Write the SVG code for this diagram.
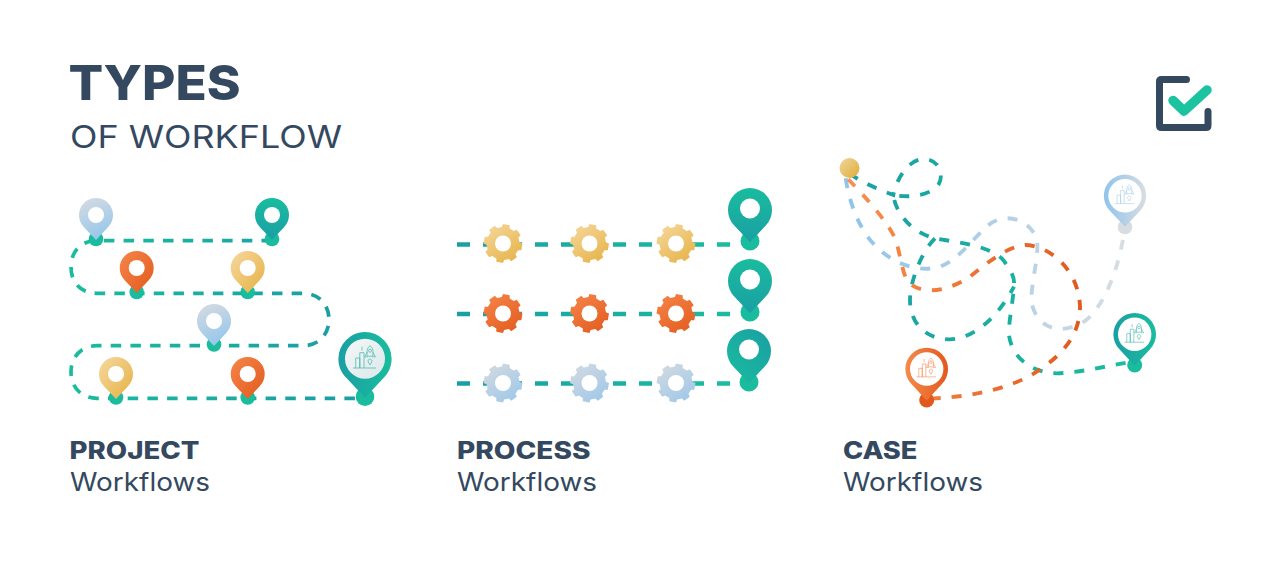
<svg xmlns="http://www.w3.org/2000/svg" xmlns:xlink="http://www.w3.org/1999/xlink" width="1280" height="572" viewBox="0 0 1280 572">
<style>
text{font-family:Inter,"Liberation Sans",sans-serif;fill:#34495f}
.b{font-weight:800;font-size:24px}
.r{font-weight:400;font-size:25px}
.hole{fill:#fff}
.pd{fill:#1abc9e}
.ic{fill:none;stroke-width:.7}
.dash{fill:none;stroke-width:3.7;stroke-dasharray:10.500 9.200}
.pr{fill:none;stroke-width:4.400;stroke-dasharray:13 13;stroke:url(#lineP)}
.cs{fill:none;stroke-width:11.500;stroke-dasharray:30 33}
</style>
<defs>
<linearGradient id="gBlue" x1=".25" y1="0" x2=".6" y2="1"><stop offset="0" stop-color="#d3dae1"/><stop offset="1" stop-color="#94c6ec"/></linearGradient>
<linearGradient id="gTeal" x1="0" y1="0" x2="0" y2="1"><stop offset="0" stop-color="#1abc9e"/><stop offset="1" stop-color="#1a9fa4"/></linearGradient>
<linearGradient id="gOrange" x1="0" y1="0" x2="1" y2="1"><stop offset="0" stop-color="#f6864a"/><stop offset="1" stop-color="#e2591d"/></linearGradient>
<linearGradient id="gGold" x1="0" y1="0" x2="1" y2="1"><stop offset="0" stop-color="#f6d9a0"/><stop offset="1" stop-color="#e5b042"/></linearGradient>
<linearGradient id="gGear3" x1="0" y1="0" x2="1" y2="1"><stop offset="0" stop-color="#d6dbe0"/><stop offset="1" stop-color="#9ac6ea"/></linearGradient>
<linearGradient id="gTealH" x1="0" y1="0" x2="1" y2="0"><stop offset="0" stop-color="#1a9fa4"/><stop offset="1" stop-color="#1abc9e"/></linearGradient>
<linearGradient id="gTealD" x1="1" y1="0" x2="0" y2="1"><stop offset="0" stop-color="#1a9fa4"/><stop offset="1" stop-color="#1abc9e"/></linearGradient>
<linearGradient id="gOrangeH" x1="0" y1="0" x2="1" y2="0"><stop offset="0" stop-color="#f58a4b"/><stop offset="1" stop-color="#e2591d"/></linearGradient>
<linearGradient id="gBlueH" x1="0" y1="0" x2="1" y2="0"><stop offset="0" stop-color="#8fc4ec"/><stop offset="1" stop-color="#d8dde2"/></linearGradient>
<linearGradient id="gInner" x1="0" y1="0" x2="1" y2="1"><stop offset="0" stop-color="#f5f8f8"/><stop offset="1" stop-color="#dbe8ea"/></linearGradient>
<linearGradient id="gBall" x1="0" y1="0" x2="1" y2="1"><stop offset="0" stop-color="#efd79c"/><stop offset="1" stop-color="#e2ab38"/></linearGradient>
<linearGradient id="lineJ" gradientUnits="userSpaceOnUse" x1="71" y1="0" x2="329" y2="0"><stop offset="0" stop-color="#1abc9e"/><stop offset="1" stop-color="#1a9fa4"/></linearGradient>
<linearGradient id="lineP" gradientUnits="userSpaceOnUse" x1="457" y1="0" x2="730" y2="0"><stop offset="0" stop-color="#1a9fa4"/><stop offset="1" stop-color="#1abc9e"/></linearGradient>
<linearGradient id="lineT" gradientUnits="userSpaceOnUse" x1="50" y1="0" x2="890" y2="0"><stop offset="0" stop-color="#1a9fa4"/><stop offset="1" stop-color="#1abc9e"/></linearGradient>
<linearGradient id="lineO" gradientUnits="userSpaceOnUse" x1="50" y1="0" x2="750" y2="0"><stop offset="0" stop-color="#f9904f"/><stop offset="1" stop-color="#e2591d"/></linearGradient>
<linearGradient id="lineB" gradientUnits="userSpaceOnUse" x1="50" y1="0" x2="880" y2="0"><stop offset="0" stop-color="#8fc4ec"/><stop offset=".7" stop-color="#bcd3e4"/><stop offset="1" stop-color="#d8dde2"/></linearGradient>
<path id="pin" d="M0 25L-12 12.200C-15.200 8.900-17 4.800-17 0A17 17 0 0 1 17 0C17 4.800 15.200 8.900 12 12.200Z"/>
<path id="gear" d="M16.010-3.990L19.200-3.390 19.200 3.390 16.010 3.990 14.140 8.500 15.970 11.180 11.180 15.970 8.500 14.140 3.990 16.010 3.390 19.200-3.390 19.200-3.990 16.010-8.500 14.140-11.180 15.970-15.970 11.180-14.140 8.500-16.010 3.990-19.200 3.390-19.200-3.390-16.010-3.990-14.140-8.500-15.970-11.180-11.180-15.970-8.500-14.140-3.990-16.010-3.390-19.200 3.390-19.200 3.990-16.010 8.500-14.140 11.180-15.970 15.970-11.180 14.140-8.500Z"/>
<g id="icon"><path d="M-12 9.300H11M-9.300 9.300V-.7H-5.200V9.300M-5.200 9.300V-6H-1V9.300M-3 -12V-8.200"/><path d="M5-13C2-11 1.600-7 2.200-2.500H7.800C8.400-7 8-11 5-13ZM2.200-6.500L-.4-1.800H2.500M7.800-6.500L10.400-1.800H7.500"/><circle cx="5" cy="-8" r="1.500"/><path d="M5 6.300L3.200 3.200A2 2 0 1 1 6.800 3.200Z"/></g>
</defs>
<rect width="1280" height="572" fill="#fff"/>

<g id="title">
<text x="68.500" y="99.500" font-size="48" font-weight="800" textLength="172" lengthAdjust="spacingAndGlyphs">TYPES</text>
<text x="70" y="148" font-size="31" font-weight="400" textLength="272" lengthAdjust="spacingAndGlyphs">OF WORKFLOW</text>
</g>
<g id="logo" fill="none" stroke-linejoin="round" stroke-linecap="round">
<path d="M1186.500 79.500H1161.500Q1159.500 79.500 1159.500 81.500V125.500Q1159.500 127.500 1161.500 127.500H1206Q1208 127.500 1208 125.500V111.500" stroke="#34495f" stroke-width="7"/>
<path d="M1173 100.500L1184 111L1207 90" stroke="#1cc3a0" stroke-width="9.500"/>
</g>

<g id="connectors">
<path id="project-line" class="dash" stroke="url(#lineJ)" d="M272 240.700H97C80 240.700 71 252 71 267C71 282 80 293.300 97 293.300H303C320 293.300 329 306 329 319.500C329 333 320 345.700 303 345.700H97C80 345.700 71 358 71 372C71 386 80 398.300 97 398.300H365"/>
<g id="process-lines">
<path class="pr" d="M457 244.500H730"/>
<path class="pr" d="M457 314H730"/>
<path class="pr" d="M457 383.500H730"/>
</g>
<g id="case-lines" transform="translate(830 150) scale(.33333)">
<path class="cs" stroke="url(#lineB)" d="M47 85C60 170 95 255 150 300C200 345 270 368 330 350C385 330 430 265 470 230C510 190 590 195 620 265C630 320 600 400 605 460C620 525 670 550 730 530C800 515 860 390 882 250"/>
<path class="cs" stroke="url(#lineT)" d="M58 70C100 100 150 120 190 135C198 90 235 25 285 27C325 30 345 70 325 105C300 135 245 145 190 135C195 180 235 245 315 265C385 278 470 285 515 325C545 360 555 385 552 410C548 460 535 520 537 555C545 620 600 668 680 670C750 668 820 650 890 638"/>
<path class="cs" stroke="url(#lineT)" d="M315 265C270 310 240 400 240 450C240 530 300 570 360 568C440 565 510 490 552 410"/>
<path class="cs" stroke="url(#lineO)" d="M55 88C100 135 170 210 195 265C215 320 215 385 245 405C290 435 360 420 420 380C470 340 530 290 585 285C650 285 745 350 750 470C750 560 690 620 620 665C560 705 450 740 310 745"/>
</g>
</g>

<g id="project-pin-1"><circle class="pd" cx="96" cy="239" r="7.300"/><use href="#pin" transform="translate(96 215)" fill="url(#gBlue)"/><circle class="hole" cx="96" cy="215" r="8"/></g>
<g id="project-pin-2"><circle class="pd" cx="272" cy="239" r="7.300"/><use href="#pin" transform="translate(272 215)" fill="url(#gTeal)"/><circle class="hole" cx="272" cy="215" r="8"/></g>
<g id="project-pin-3"><circle class="pd" cx="136.700" cy="292" r="7.300"/><use href="#pin" transform="translate(136.700 268)" fill="url(#gOrange)"/><circle class="hole" cx="136.700" cy="268" r="8"/></g>
<g id="project-pin-4"><circle class="pd" cx="247.700" cy="292" r="7.300"/><use href="#pin" transform="translate(247.700 268)" fill="url(#gGold)"/><circle class="hole" cx="247.700" cy="268" r="8"/></g>
<g id="project-pin-5"><circle class="pd" cx="214" cy="344.500" r="7.300"/><use href="#pin" transform="translate(214 321)" fill="url(#gBlue)"/><circle class="hole" cx="214" cy="321" r="8"/></g>
<g id="project-pin-6"><circle class="pd" cx="116" cy="397.500" r="7.300"/><use href="#pin" transform="translate(116 374)" fill="url(#gGold)"/><circle class="hole" cx="116" cy="374" r="8"/></g>
<g id="project-pin-7"><circle class="pd" cx="247.700" cy="397.500" r="7.300"/><use href="#pin" transform="translate(247.700 374)" fill="url(#gOrange)"/><circle class="hole" cx="247.700" cy="374" r="8"/></g>
<g id="project-pin-end"><circle class="pd" cx="365" cy="396.700" r="9.300"/><use href="#pin" transform="translate(365 358.700) scale(1.565)" fill="url(#gTealH)"/><circle cx="365" cy="358.700" r="20" fill="url(#gInner)"/><use href="#icon" class="ic" stroke="#3fb5a8" transform="translate(365 358.700)"/></g>

<g id="gear-1-1"><use href="#gear" transform="translate(503 243.500) rotate(10)" fill="url(#gGold)"/><circle class="hole" cx="503" cy="243.500" r="8"/></g>
<g id="gear-1-2"><use href="#gear" transform="translate(589.500 243.500) rotate(10)" fill="url(#gGold)"/><circle class="hole" cx="589.500" cy="243.500" r="8"/></g>
<g id="gear-1-3"><use href="#gear" transform="translate(676 243.500) rotate(10)" fill="url(#gGold)"/><circle class="hole" cx="676" cy="243.500" r="8"/></g>
<g id="gear-2-1"><use href="#gear" transform="translate(503 313.500) rotate(10)" fill="url(#gOrange)"/><circle class="hole" cx="503" cy="313.500" r="8"/></g>
<g id="gear-2-2"><use href="#gear" transform="translate(589.500 313.500) rotate(10)" fill="url(#gOrange)"/><circle class="hole" cx="589.500" cy="313.500" r="8"/></g>
<g id="gear-2-3"><use href="#gear" transform="translate(676 313.500) rotate(10)" fill="url(#gOrange)"/><circle class="hole" cx="676" cy="313.500" r="8"/></g>
<g id="gear-3-1"><use href="#gear" transform="translate(503 383) rotate(10)" fill="url(#gGear3)"/><circle class="hole" cx="503" cy="383" r="8"/></g>
<g id="gear-3-2"><use href="#gear" transform="translate(589.500 383) rotate(10)" fill="url(#gGear3)"/><circle class="hole" cx="589.500" cy="383" r="8"/></g>
<g id="gear-3-3"><use href="#gear" transform="translate(676 383) rotate(10)" fill="url(#gGear3)"/><circle class="hole" cx="676" cy="383" r="8"/></g>

<g id="process-pin-1"><circle class="pd" cx="750" cy="241" r="9.500"/><use href="#pin" transform="translate(750 210) scale(1.294)" fill="url(#gTeal)"/><circle class="hole" cx="750" cy="208.500" r="10"/></g>
<g id="process-pin-2"><circle class="pd" cx="750" cy="312" r="9.500"/><use href="#pin" transform="translate(750 281) scale(1.294)" fill="url(#gTeal)"/><circle class="hole" cx="750" cy="279.500" r="10"/></g>
<g id="process-pin-3"><circle class="pd" cx="749" cy="382" r="9.500"/><use href="#pin" transform="translate(749 351) scale(1.294)" fill="url(#gTealD)"/><circle class="hole" cx="749" cy="349.500" r="10"/></g>

<g id="case-start"><circle cx="849.500" cy="168" r="10" fill="url(#gBall)"/></g>
<g id="case-pin-orange"><circle cx="926.700" cy="400" r="7.500" fill="#e2591d"/><use href="#pin" transform="translate(926.700 369) scale(1.255)" fill="url(#gOrangeH)"/><circle class="hole" cx="926.700" cy="369" r="16.700"/><use href="#icon" class="ic" stroke="#f28a52" transform="translate(926.700 369) scale(.85)"/></g>
<g id="case-pin-blue"><circle cx="1125" cy="227" r="7.300" fill="#d8dde2"/><use href="#pin" transform="translate(1125 195.700) scale(1.245)" fill="url(#gBlueH)"/><circle class="hole" cx="1125" cy="195.700" r="16.700"/><use href="#icon" class="ic" stroke="#a6cde9" transform="translate(1125 195.700) scale(.85)"/></g>
<g id="case-pin-teal"><circle class="pd" cx="1134.700" cy="365" r="7.500"/><use href="#pin" transform="translate(1134.700 334.300) scale(1.255)" fill="url(#gTealH)"/><circle class="hole" cx="1134.700" cy="334.300" r="16.700"/><use href="#icon" class="ic" stroke="#3fb5a8" transform="translate(1134.700 334.300) scale(.85)"/></g>

<g id="label-project"><text class="b" x="69.500" y="459" textLength="130" lengthAdjust="spacingAndGlyphs">PROJECT</text><text class="r" x="70" y="491" textLength="140" lengthAdjust="spacingAndGlyphs">Workflows</text></g>
<g id="label-process"><text class="b" x="457" y="459" textLength="133.500" lengthAdjust="spacingAndGlyphs">PROCESS</text><text class="r" x="457" y="491" textLength="140" lengthAdjust="spacingAndGlyphs">Workflows</text></g>
<g id="label-case"><text class="b" x="843" y="459" textLength="74.500" lengthAdjust="spacingAndGlyphs">CASE</text><text class="r" x="843" y="491" textLength="140" lengthAdjust="spacingAndGlyphs">Workflows</text></g>
</svg>
